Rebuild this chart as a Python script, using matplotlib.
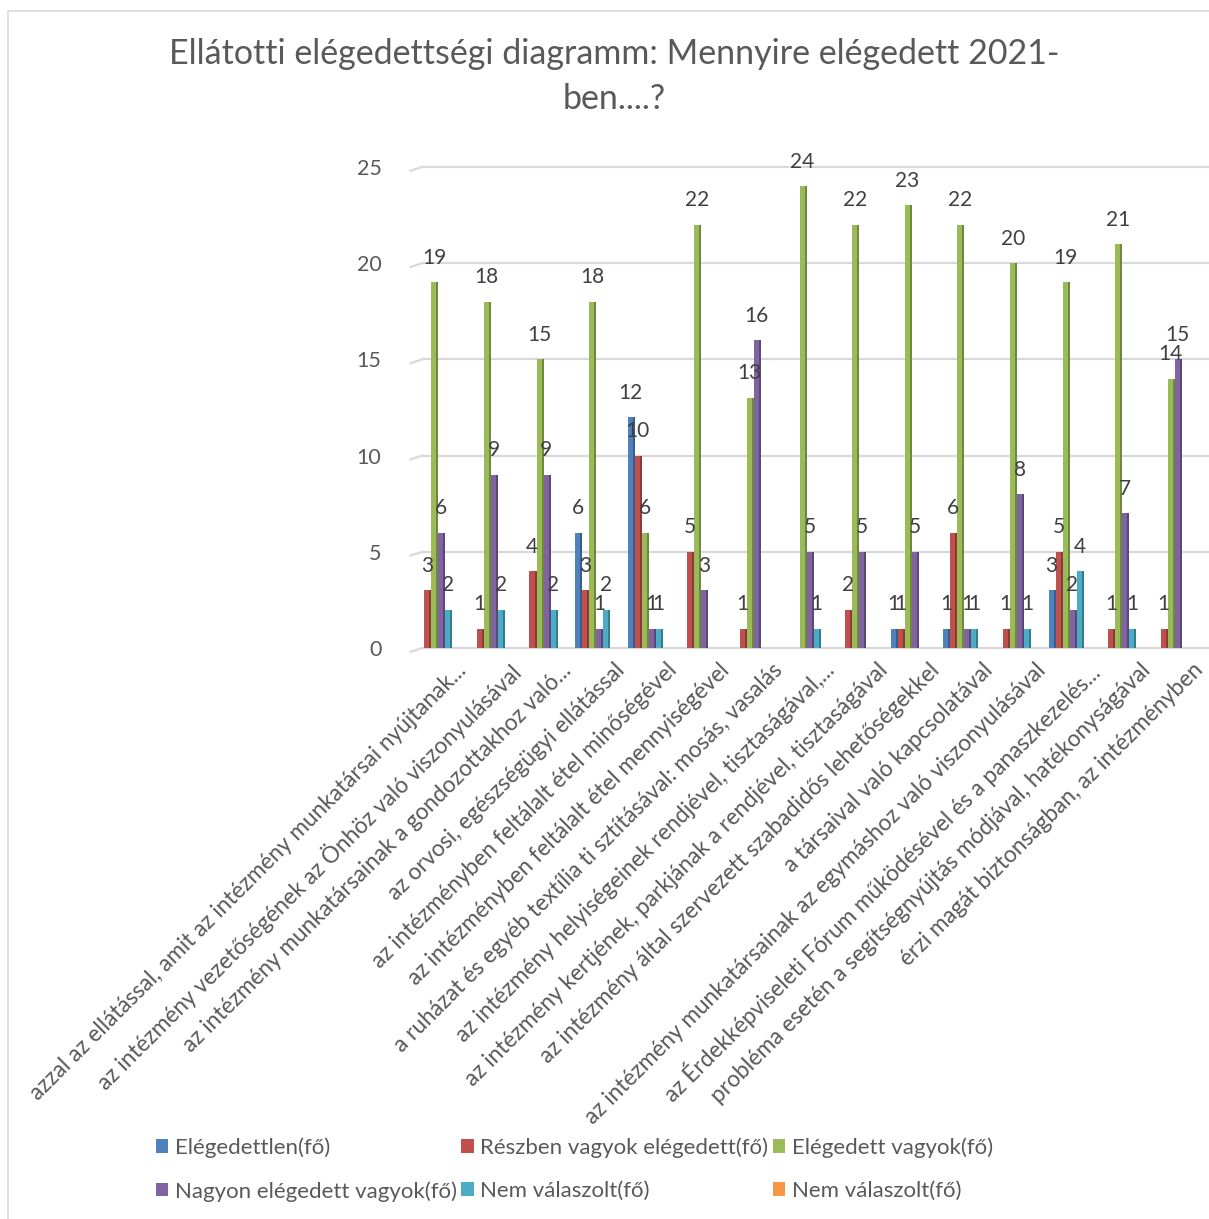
import matplotlib
matplotlib.use('Agg')
import matplotlib.pyplot as plt
import numpy as np
from matplotlib.patches import Rectangle

plt.rcParams['font.family'] = ['Lato', 'DejaVu Sans']

categories = [
    'azzal az ellátással, amit az intézmény munkatársai nyújtanak...',
    'az intézmény vezetőségének az Önhöz való viszonyulásával',
    'az intézmény munkatársainak a gondozottakhoz való...',
    'az orvosi, egészségügyi ellátással',
    'az intézményben feltálalt étel minőségével',
    'az intézményben feltálalt étel mennyiségével',
    'a ruházat és egyéb textília ti sztításával: mosás, vasalás',
    'az intézmény helyiségeinek rendjével, tisztaságával,...',
    'az intézmény kertjének, parkjának a rendjével, tisztaságával',
    'az intézmény által szervezett szabadidős lehetőségekkel',
    'a társaival való kapcsolatával',
    'az intézmény munkatársainak az egymáshoz való viszonyulásával',
    'az Érdekképviseleti Fórum működésével és a panaszkezelés...',
    'probléma esetén a segítségnyújtás módjával, hatékonyságával',
    'érzi magát biztonságban, az intézményben',
]

series_names = ['Elégedettlen(fő)', 'Részben vagyok elégedett(fő)', 'Elégedett vagyok(fő)',
                'Nagyon elégedett vagyok(fő)', 'Nem válaszolt(fő)', 'Nem válaszolt(fő)']
colors = ['#4f81bd', '#c0504d', '#9bbb59', '#8064a2', '#4bacc6', '#f79646']

elegedetlen = [0, 0, 0, 6, 12, 0, 0, 0, 0, 1, 1, 0, 3, 0, 0]
reszben = [3, 1, 4, 3, 10, 5, 1, 0, 2, 1, 6, 1, 5, 1, 1]
elegedett = [19, 18, 15, 18, 6, 22, 13, 24, 22, 23, 22, 20, 19, 21, 14]
nagyon = [6, 9, 9, 1, 1, 3, 16, 5, 5, 5, 1, 8, 2, 7, 15]
nem_valaszolt = [2, 2, 2, 2, 1, 0, 0, 1, 0, 0, 1, 1, 4, 1, 0]
nem_valaszolt2 = [0] * 15

data = [elegedetlen, reszben, elegedett, nagyon, nem_valaszolt, nem_valaszolt2]
yticks = [0, 5, 10, 15, 20, 25]

W, H = 1209, 1219
fig = plt.figure(figsize=(W / 100, H / 100), dpi=100)

# chart frame
fig.patches.append(Rectangle((8 / W, -0.01), 1.0, 1 - 11 / H + 0.01, transform=fig.transFigure,
                             fill=False, edgecolor='#d9d9d9', linewidth=1.2))

ax = fig.add_axes([412 / W, 1 - 648 / H, (1208 - 412) / W, (648 - 167) / H])
x = np.arange(len(categories))
n = len(data)
w = 0.8 / n


def darker(c, f=0.72):
    r, g, b = matplotlib.colors.to_rgb(c)
    return (r * f, g * f, b * f)


handles = []
for i, (vals, col) in enumerate(zip(data, colors)):
    pos = x + (i - n / 2 + 0.5) * w
    front = ax.bar(pos - w * 0.14, vals, width=w * 0.72, color=col, zorder=3, linewidth=0)
    ax.bar(pos + w * 0.36, vals, width=w * 0.28, color=darker(col), zorder=3, linewidth=0)
    handles.append(front)
    for p, v in zip(pos, vals):
        if v > 0:
            ax.text(p - w * 0.1, v + 0.75, str(v), ha='center', va='bottom',
                    fontsize=15, color='#404040', zorder=5)

ax.set_ylim(0, 25)
ax.set_xlim(-0.5, 14.63)
for t in yticks:
    ax.plot([-0.31, 14.63], [t, t], color='#d9d9d9', linewidth=1.6, zorder=1, clip_on=False)
    ax.plot([-0.53, -0.31], [t - 0.2, t], color='#d9d9d9', linewidth=1.6, zorder=1, clip_on=False)

ax.set_yticks(yticks)
ax.set_yticklabels([str(t) for t in yticks], fontsize=15.5, color='#595959')
ax.tick_params(axis='y', length=0, pad=22)
ax.set_xticks([])
for s in ax.spines.values():
    s.set_visible(False)

for xi, lab in zip(x, categories):
    ax.text(xi + 0.33, -0.6, lab, rotation=45, ha='right', va='top', rotation_mode='anchor',
            fontsize=16.3, color='#595959')

fig.text(614 / W, 1 - 38 / H, 'Ellátotti elégedettségi diagramm: Mennyire elégedett 2021-\nben....?',
         ha='center', va='top', fontsize=24.5, color='#595959', linespacing=1.5)

order = [0, 3, 1, 4, 2, 5]
fig.legend([handles[k] for k in order], [series_names[k] for k in order], ncol=3,
           loc='upper left', bbox_to_anchor=(145 / W, 1 - 1126 / H), frameon=False,
           fontsize=16, labelcolor='#595959', handlelength=0.55, handleheight=0.55,
           handletextpad=0.3, columnspacing=0.2, labelspacing=1.05, borderpad=0)

fig.savefig('out.png', dpi=100)
